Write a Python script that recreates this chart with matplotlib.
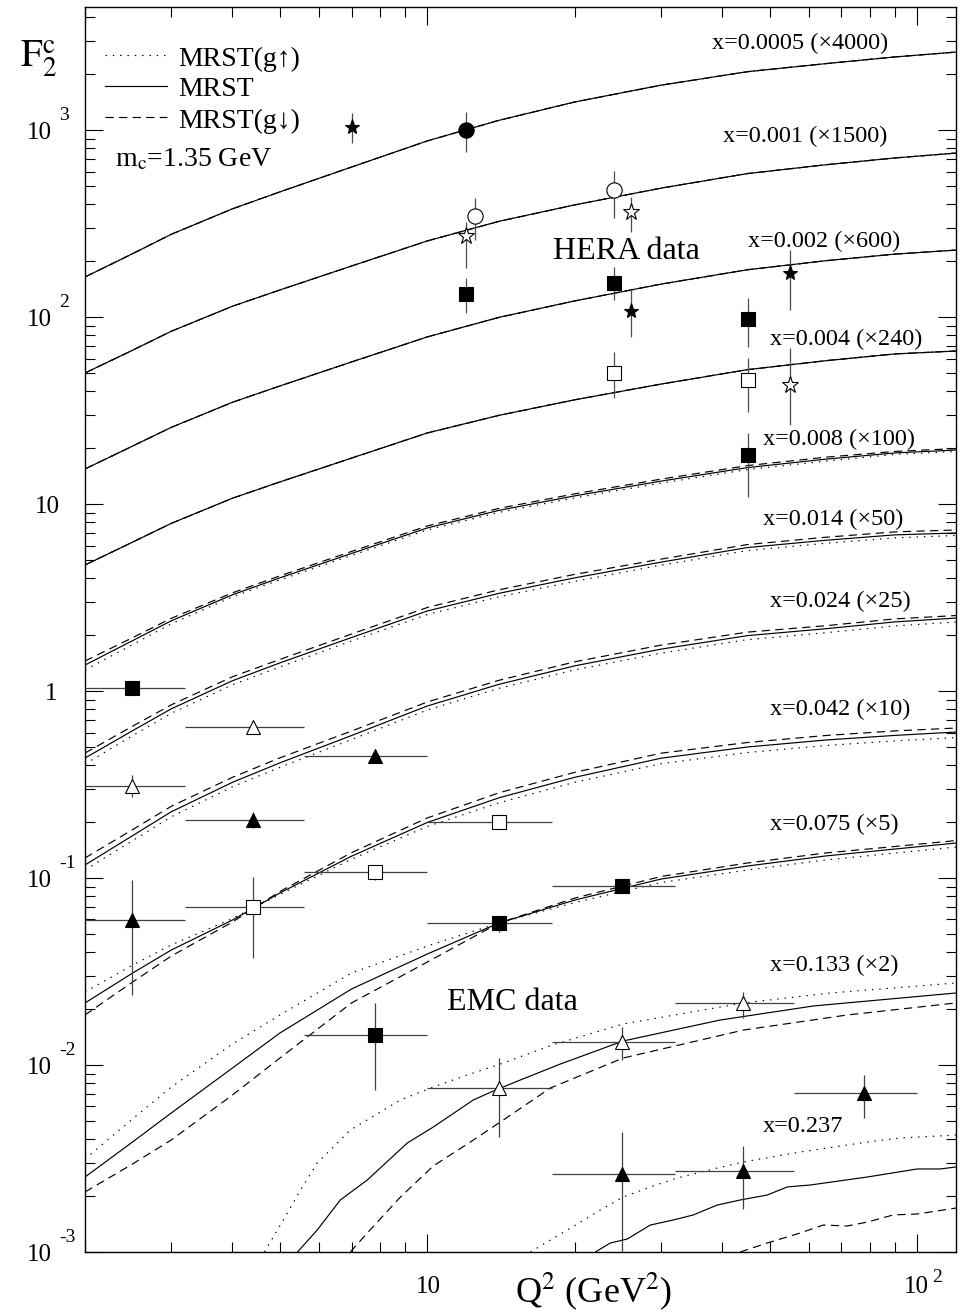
import matplotlib
matplotlib.use("Agg")
import matplotlib.pyplot as plt
from matplotlib.lines import Line2D
from matplotlib.ticker import LogLocator, NullFormatter

plt.rcParams["font.family"] = ["Liberation Serif", "DejaVu Serif"]
plt.rcParams["mathtext.fontset"] = "stix"

W, H = 963, 1314

# ---- MRST curves (F2c, already scaled by the factor in the label) ----
Q2_GRID = [2, 2.5, 3, 4, 5, 7, 10, 14, 20, 30, 45, 65, 90, 120]

F_X0005 = [163.7, 218, 277, 379, 467, 634, 875, 1127, 1413, 1738, 2051, 2265, 2460, 2612]
F_X001 = [50.2, 66.4, 83.9, 114.2, 139.6, 187.4, 255.3, 325, 398, 489, 585, 652, 709, 753]
F_X002 = [15.4, 20.4, 25.7, 35.0, 42.8, 57.5, 78.3, 99.6, 122, 150, 179, 200, 217, 228]
F_X004 = [4.72, 6.25, 7.88, 10.74, 13.13, 17.6, 24.0, 29.8, 36.1, 43.8, 52.3, 58.4, 63.5, 65.8]

F_X008_UP = [1.295, 1.769, 2.288, 3.19, 3.932, 5.308, 7.269, 9.025, 10.79, 12.94, 15.28, 16.95, 18.42, 19.09]
F_X008 = [1.377, 1.858, 2.374, 3.27, 4.03, 5.44, 7.45, 9.25, 11.06, 13.26, 15.66, 17.37, 18.76, 19.44]
F_X008_DN = [1.447, 1.928, 2.448, 3.351, 4.13, 5.575, 7.636, 9.48, 11.34, 13.59, 16.05, 17.8, 19.11, 19.8]

F_X014_UP = [0.4068, 0.5764, 0.7597, 1.080, 1.346, 1.851, 2.567, 3.19, 3.86, 4.713, 5.638, 6.168, 6.592, 6.788]
F_X014 = [0.438, 0.613, 0.803, 1.135, 1.414, 1.932, 2.68, 3.33, 4.03, 4.89, 5.85, 6.40, 6.84, 7.0]
F_X014_DN = [0.4658, 0.648, 0.8436, 1.192, 1.476, 2.017, 2.798, 3.477, 4.207, 5.074, 6.07, 6.641, 7.097, 7.263]

F_X024_UP = [0.1104, 0.1583, 0.2125, 0.3075, 0.3907, 0.5502, 0.792, 1.034, 1.298, 1.594, 1.883, 2.05, 2.229, 2.338]
F_X024 = [0.1174, 0.1683, 0.226, 0.325, 0.413, 0.578, 0.832, 1.086, 1.364, 1.675, 1.978, 2.153, 2.342, 2.456]
F_X024_DN = [0.128, 0.1812, 0.2418, 0.3456, 0.4392, 0.611, 0.874, 1.141, 1.433, 1.76, 2.065, 2.234, 2.43, 2.533]

F_X042_UP = [0.02458, 0.03421, 0.04382, 0.06071, 0.08168, 0.1261, 0.1888, 0.2525, 0.325, 0.4087, 0.469, 0.5112, 0.541, 0.564]
F_X042 = [0.02147, 0.0310, 0.0412, 0.0596, 0.0832, 0.1308, 0.1983, 0.2685, 0.3456, 0.4373, 0.5019, 0.547, 0.5789, 0.6035]
F_X042_DN = [0.01852, 0.02775, 0.03826, 0.05815, 0.08475, 0.1366, 0.2096, 0.2856, 0.3675, 0.4651, 0.5305, 0.5782, 0.6119, 0.634]

F_X075_UP = [0.003143, 0.005142, 0.007625, 0.01295, 0.01851, 0.03105, 0.04329, 0.05745, 0.07393, 0.0946, 0.1103, 0.1249, 0.136, 0.1464]
F_X075 = [0.002518, 0.003873, 0.005537, 0.009638, 0.01483, 0.02549, 0.03925, 0.05745, 0.07624, 0.09876, 0.1159, 0.1312, 0.1429, 0.1538]
F_X075_DN = [0.002094, 0.002955, 0.003972, 0.006911, 0.01090, 0.02147, 0.03555, 0.05745, 0.07814, 0.1019, 0.1203, 0.1361, 0.1474, 0.1586]

Q2_X133_UP = [4.65, 5.08, 5.51, 5.96, 6.96, 8.81, 10.28, 12.07, 14.09, 17.99, 25.1, 44.2, 66.4, 120]
F_X133_UP = [0.001, 0.001483, 0.002147, 0.002992, 0.004491, 0.006501, 0.007625, 0.008846, 0.01012, 0.01279, 0.01656, 0.02147, 0.02427, 0.02746]
Q2_X133 = [5.43, 5.96, 6.64, 7.54, 9.10, 10.28, 12.41, 13.64, 15.48, 18.68, 25.1, 39.6, 61.4, 120]
F_X133 = [0.001, 0.001312, 0.001897, 0.002427, 0.003828, 0.004659, 0.006501, 0.007262, 0.008315, 0.01012, 0.01344, 0.01740, 0.02069, 0.02427]
Q2_X133_DN = [6.96, 7.54, 8.81, 10.28, 12.07, 14.09, 17.83, 25.1, 44.2, 71.9, 120]
F_X133_DN = [0.001, 0.001264, 0.001968, 0.002884, 0.003781, 0.004955, 0.007535, 0.0109, 0.01538, 0.01851, 0.02147]

Q2_X237_UP = [16.23, 19.31, 22.55, 25.1, 28.52, 32.37, 39.07, 44.2, 57.7, 79.1, 92.3, 120]
F_X237_UP = [0.001, 0.001312, 0.001678, 0.001968, 0.002228, 0.002488, 0.002812, 0.003030, 0.003426, 0.003873, 0.004070, 0.004222]
Q2_X237 = [22.02, 23.63, 25.6, 28.52, 31.77, 34.9, 39.07, 43.5, 49.4, 54.3, 60.5, 79.1, 100, 111.4, 120]
F_X237 = [0.001, 0.001117, 0.001174, 0.001394, 0.001483, 0.001578, 0.001783, 0.001897, 0.002017, 0.002228, 0.002282, 0.002518, 0.002780, 0.002780, 0.002849]
Q2_X237_DN = [43.5, 49.4, 57.7, 64.3, 71.9, 79.1, 89.3, 100, 120]
F_X237_DN = [0.001, 0.001117, 0.001264, 0.001394, 0.001377, 0.001446, 0.001578, 0.001597, 0.001718]

CURVE_LABELS = ["x=0.0005 (\u00d74000)", "x=0.001 (\u00d71500)", "x=0.002 (\u00d7600)",
                "x=0.004 (\u00d7240)", "x=0.008 (\u00d7100)", "x=0.014 (\u00d750)",
                "x=0.024 (\u00d725)", "x=0.042 (\u00d710)", "x=0.075 (\u00d75)",
                "x=0.133 (\u00d72)", "x=0.237"]

# ---- HERA data ----
HERA_Q2 = [7.0, 12.0, 12.5, 12.0, 12.0, 24.0, 26.1, 24.0, 26.1, 24.0, 55.0, 45.2, 45.2, 55.0, 45.2]
HERA_F = [1038, 1006, 347, 271, 133, 478, 364, 152, 108, 50.2, 172, 97.6, 46.0, 43.3, 18.3]
HERA_F_LO = [851, 762, 258, 183, 105, 338, 285, 123, 78.2, 36.9, 109, 69.1, 31.0, 26.5, 10.9]
HERA_F_HI = [1233, 1248, 433, 322, 162, 604, 438, 185, 139, 65.0, 228, 126, 60.4, 68.3, 24.0]
HERA_SYMBOL = ["*", "o", "o", "*", "s", "o", "*", "s", "*", "s", "*", "s", "s", "*", "s"]
HERA_FILLED = [True, True, False, False, True, False, False, True, True, False, True, True, False, False, True]

# ---- EMC data ----
EMC_Q2 = [2.5, 4.4, 7.8, 2.5, 4.4, 7.8, 2.5, 4.4, 14, 25, 14, 7.8, 14, 25, 44, 78, 25, 44]
EMC_Q2_LO = [2.0, 3.2, 5.6, 2.0, 3.2, 5.6, 2.0, 3.2, 10, 18, 10, 5.6, 10, 18, 32, 56, 18, 32]
EMC_Q2_HI = [3.2, 5.6, 10, 3.2, 5.6, 10, 3.2, 5.6, 18, 32, 18, 10, 18, 32, 56, 100, 32, 56]
EMC_F = [1.037, 0.642, 0.449, 0.310, 0.204, 0.1077, 0.0596, 0.070, 0.1993, 0.0906, 0.0575,
         0.01446, 0.00753, 0.01327, 0.02147, 0.00708, 0.00261, 0.00271]
EMC_F_LO = [1.037, 0.642, 0.449, 0.271, 0.185, 0.0976, 0.0237, 0.0373, 0.193, 0.087, 0.0514,
            0.00735, 0.00412, 0.01063, 0.01783, 0.00521, 0.0008, 0.0017]
EMC_F_HI = [1.037, 0.642, 0.449, 0.356, 0.226, 0.1145, 0.0976, 0.1012, 0.205, 0.094, 0.0618,
            0.0215, 0.01089, 0.01597, 0.02457, 0.00885, 0.00438, 0.00369]
EMC_SYMBOL = ["s", "^", "^", "^", "^", "s", "^", "s", "s", "s", "s", "s", "^", "^", "^", "^", "^", "^"]
EMC_FILLED = [True, False, True, False, True, False, True, False, False, True, True, True,
              False, False, False, True, True, True]


def fxy(px, py):
    return px / W, 1 - py / H


DOT = (0, (1.2, 5))
DASH = (0, (7, 4.5))


def main():
    fig = plt.figure(figsize=(W / 100, H / 100), dpi=100)
    ax = fig.add_axes([85 / W, 62 / H, 871 / W, 1245 / H])
    ax.set_xscale("log")
    ax.set_yscale("log")
    ax.set_xlim(2.0, 120)
    ax.set_ylim(1e-3, 4550)

    lw = 0.85
    grid_curves = [
        (F_X0005, F_X0005, F_X0005),
        (F_X001, F_X001, F_X001),
        (F_X002, F_X002, F_X002),
        (F_X004, F_X004, F_X004),
        (F_X008_UP, F_X008, F_X008_DN),
        (F_X014_UP, F_X014, F_X014_DN),
        (F_X024_UP, F_X024, F_X024_DN),
        (F_X042_UP, F_X042, F_X042_DN),
        (F_X075_UP, F_X075, F_X075_DN),
    ]
    for up, mid, dn in grid_curves:
        ax.plot(Q2_GRID, up, color="black", lw=lw, ls=DOT)
        ax.plot(Q2_GRID, mid, color="black", lw=lw, ls="-")
        ax.plot(Q2_GRID, dn, color="black", lw=lw, ls=DASH)

    ax.plot(Q2_X133_UP, F_X133_UP, color="black", lw=lw, ls=DOT)
    ax.plot(Q2_X133, F_X133, color="black", lw=lw, ls="-")
    ax.plot(Q2_X133_DN, F_X133_DN, color="black", lw=lw, ls=DASH)
    ax.plot(Q2_X237_UP, F_X237_UP, color="black", lw=lw, ls=DOT)
    ax.plot(Q2_X237, F_X237, color="black", lw=lw, ls="-")
    ax.plot(Q2_X237_DN, F_X237_DN, color="black", lw=lw, ls=DASH)

    # HERA points (vertical errors only)
    for q, f, lo, hi, sym, filled in zip(HERA_Q2, HERA_F, HERA_F_LO, HERA_F_HI,
                                         HERA_SYMBOL, HERA_FILLED):
        ms = {"*": 12.5, "o": 11, "s": 10.5}[sym]
        if sym == "*" and filled:
            ms = 11
        ax.errorbar([q], [f], yerr=[[f - lo], [hi - f]], fmt=sym, ms=ms,
                    mfc="black" if filled else "white", mec="black", mew=0.8,
                    ecolor="0.3", elinewidth=0.9, capsize=0, zorder=5)

    # EMC points (bins in Q2 and errors in F)
    for q, qlo, qhi, f, lo, hi, sym, filled in zip(EMC_Q2, EMC_Q2_LO, EMC_Q2_HI, EMC_F,
                                                   EMC_F_LO, EMC_F_HI, EMC_SYMBOL, EMC_FILLED):
        ms = 9.5 if sym == "s" else 9.8
        ax.errorbar([q], [f], xerr=[[q - qlo], [qhi - q]], yerr=[[f - lo], [hi - f]],
                    fmt=sym, ms=ms, mfc="black" if filled else "white", mec="black",
                    mew=0.8, ecolor="0.25", elinewidth=0.9, capsize=0, zorder=5)

    # axes cosmetics
    for sp in ax.spines.values():
        sp.set_linewidth(1.0)
    ax.xaxis.set_major_locator(LogLocator(base=10, numticks=10))
    ax.xaxis.set_minor_locator(LogLocator(base=10, subs=range(2, 10), numticks=10))
    ax.yaxis.set_major_locator(LogLocator(base=10, numticks=20))
    ax.yaxis.set_minor_locator(LogLocator(base=10, subs=range(2, 10), numticks=20))
    ax.xaxis.set_minor_formatter(NullFormatter())
    ax.yaxis.set_minor_formatter(NullFormatter())
    ax.tick_params(which="both", direction="in", top=True, right=True,
                   labelbottom=False, labelleft=False, width=0.8)
    ax.tick_params(which="major", length=13)
    ax.tick_params(which="minor", length=7)

    # y tick labels
    tick_fs, sup_fs = 18, 14
    for n, py in [(3, 130), (2, 317), (-1, 878), (-2, 1065), (-3, 1252)]:
        fig.text(*fxy(52, py + 9), "10", ha="right", va="baseline", fontsize=tick_fs)
        fig.text(*fxy(59, py - 10), str(n).replace("-", "-"), ha="left", va="baseline",
                 fontsize=sup_fs)
    fig.text(*fxy(60, 513), "10", ha="right", va="baseline", fontsize=tick_fs)
    fig.text(*fxy(57, 700), "1", ha="right", va="baseline", fontsize=tick_fs)

    # x tick labels
    fig.text(*fxy(428, 1293), "10", ha="center", va="baseline", fontsize=tick_fs)
    fig.text(*fxy(929, 1293), "10", ha="right", va="baseline", fontsize=tick_fs)
    fig.text(*fxy(932, 1282), "2", ha="left", va="baseline", fontsize=sup_fs)

    # axis labels
    fig.text(*fxy(515, 1302), r"Q$^{2}$ (GeV$^{2}$)", ha="left", va="baseline", fontsize=26)
    fig.text(*fxy(20, 67), r"$\mathrm{F}_{2}^{\mathrm{c}}$", ha="left", va="baseline", fontsize=28)

    # legend
    for ls, label, py in [(DOT, "MRST(g\u2191)", 55), ("-", "MRST", 86), (DASH, "MRST(g\u2193)", 117)]:
        x0, y0 = fxy(105, py)
        x1, _ = fxy(167, py)
        fig.add_artist(Line2D([x0, x1], [y0, y0], color="black", lw=lw, ls=ls))
        fig.text(*fxy(178, py + 10.5), label, ha="left", va="baseline", fontsize=20)
    fig.text(*fxy(115, 166), r"m$_{\mathrm{c}}$=1.35 GeV", ha="left", va="baseline", fontsize=20)

    # curve labels
    label_pos = [(712, 49), (723, 142), (748, 247), (770, 345), (763, 445), (763, 525),
                 (770, 607), (770, 715), (770, 830), (770, 971), (763, 1132)]
    for text, (px, py) in zip(CURVE_LABELS, label_pos):
        fig.text(*fxy(px, py), text, ha="left", va="baseline", fontsize=17.5)

    fig.text(*fxy(553, 259), "HERA data", ha="left", va="baseline", fontsize=23)
    fig.text(*fxy(447, 1010), "EMC data", ha="left", va="baseline", fontsize=23)

    fig.savefig("out.png", dpi=100)


if __name__ == "__main__":
    main()
